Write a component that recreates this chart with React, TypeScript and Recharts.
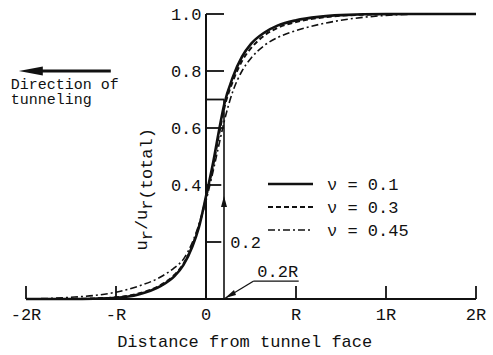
import { LineChart, Line, XAxis, YAxis, ReferenceLine, ReferenceDot } from "recharts";

// distance from tunnel face, in tunnel radii (R)
const distance = [-2, -1.75, -1.5, -1.25, -1, -0.75, -0.5, -0.35, -0.25, -0.15, -0.08, 0, 0.08, 0.15, 0.2, 0.3, 0.4, 0.5, 0.65, 0.8, 1, 1.25, 1.5, 2, 2.5, 3];
const nu01 = [0, 0, 0, 0.001, 0.004, 0.016, 0.046, 0.08, 0.12, 0.185, 0.25, 0.36, 0.48, 0.6, 0.68, 0.78, 0.85, 0.895, 0.935, 0.96, 0.978, 0.99, 0.996, 1, 1, 1];
const nu03 = [0, 0, 0, 0.002, 0.006, 0.019, 0.05, 0.085, 0.124, 0.19, 0.255, 0.355, 0.47, 0.585, 0.665, 0.765, 0.835, 0.88, 0.925, 0.952, 0.972, 0.986, 0.994, 0.999, 1, 1];
const nu045 = [0, 0.002, 0.006, 0.012, 0.024, 0.045, 0.078, 0.11, 0.14, 0.2, 0.26, 0.345, 0.45, 0.55, 0.62, 0.73, 0.8, 0.845, 0.89, 0.918, 0.942, 0.963, 0.978, 0.995, 1, 1];

const xTickValues = [-2, -1, 0, 1, 2, 3];
const xTickLabels = ["-2R", "-R", "0", "R", "1R", "2R"];
const yTickValues = [0.4, 0.6, 0.8, 1.0];
const yTickLabels = ["0.4", "0.6", "0.8", "1.0"];

const series = [
  { key: "nu01", name: "\u03bd = 0.1", dash: undefined as string | undefined, width: 2.6 },
  { key: "nu03", name: "\u03bd = 0.3", dash: "5 3", width: 2 },
  { key: "nu045", name: "\u03bd = 0.45", dash: "7 3 2 3", width: 1.6 },
];

const data = distance.map((x, i) => ({ x, nu01: nu01[i], nu03: nu03[i], nu045: nu045[i] }));

const FONT = "'Liberation Mono', 'DejaVu Sans Mono', monospace";
const INK = "#111";

// text / small glyphs anchored at a data position
function note(key: string, x: number, y: number, draw: (cx: number, cy: number) => JSX.Element) {
  return (
    <ReferenceDot
      key={key}
      x={x}
      y={y}
      r={0}
      ifOverflow="visible"
      shape={(p: any) => draw(p.cx, p.cy)}
    />
  );
}

function seg(key: string, x1: number, y1: number, x2: number, y2: number, w = 1.8) {
  return (
    <ReferenceLine
      key={key}
      segment={[{ x: x1, y: y1 }, { x: x2, y: y2 }]}
      stroke={INK}
      strokeWidth={w}
      ifOverflow="visible"
    />
  );
}

function LegendBox() {
  return (
    <svg width={160} height={72} style={{ display: "block" }}>
      {series.map((s, i) => (
        <g key={s.key}>
          <line x1={6} x2={51} y1={12 + i * 23} y2={12 + i * 23} stroke={INK} strokeWidth={s.width} strokeDasharray={s.dash} />
          <text x={65} y={18 + i * 23} fontFamily={FONT} fontSize={17} fill={INK}>{s.name}</text>
        </g>
      ))}
    </svg>
  );
}

export default function App() {
  return (
    <div style={{ position: "absolute", left: 0, top: 0, width: 493, height: 355, background: "#fff" }}>
      <LineChart width={493} height={355} data={data} margin={{ top: 14, right: 17, left: 26, bottom: 0 }}>
        <XAxis
          type="number"
          dataKey="x"
          domain={[-2, 3]}
          ticks={xTickValues}
          interval={0}
          height={56}
          axisLine={{ stroke: INK, strokeWidth: 2 }}
          tickLine={false}
          tickSize={0}
          tickMargin={0}
          tick={(p: any) => {
            const i = xTickValues.indexOf(p.payload.value);
            return (
              <g>
                <line x1={p.x} x2={p.x} y1={p.y} y2={p.y - 13} stroke={INK} strokeWidth={1.8} />
                <text x={p.x} y={p.y + 21} textAnchor="middle" fontFamily={FONT} fontSize={17} fill={INK}>
                  {xTickLabels[i]}
                </text>
              </g>
            );
          }}
        />
        <YAxis hide type="number" domain={[0, 1]} />

        {/* y axis drawn at the tunnel face */}
        {seg("yaxis", 0, 0, 0, 1, 2)}
        {yTickValues.map((v) => seg("yt" + v, 0, v, v === 0.4 ? 0.17 : 0.2, v))}
        {seg("yt02", 0, 0.2, 0.17, 0.2)}
        {seg("yt07", 0, 0.7, 0.2, 0.7)}
        {yTickValues.map((v, i) =>
          note("yl" + v, -0.05, v, (cx, cy) => (
            <text x={cx} y={cy + 6} textAnchor="end" fontFamily={FONT} fontSize={17} fill={INK}>{yTickLabels[i]}</text>
          ))
        )}

        {/* 0.2R arrow and leader */}
        {seg("arrow02", 0.2, 0, 0.2, 0.7, 1.6)}
        {note("arrowhead", 0.2, 0.33, (cx, cy) => (
          <path d={`M${cx},${cy - 9} L${cx - 3},${cy + 2} L${cx + 3},${cy + 2} Z`} fill={INK} />
        ))}
        {note("lbl02", 0.27, 0.2, (cx, cy) => (
          <text x={cx} y={cy + 6} fontFamily={FONT} fontSize={17} fill={INK}>0.2</text>
        ))}
        {seg("lead1", 0.2, 0, 0.53, 0.063, 1.3)}
        {seg("lead2", 0.53, 0.063, 1.03, 0.063, 1.3)}
        {note("leadhead", 0.2, 0, (cx, cy) => (
          <path d={`M${cx + 1},${cy - 1} L${cx + 10},${cy - 9} L${cx + 12},${cy - 4} Z`} fill={INK} />
        ))}
        {note("lbl02R", 0.57, 0.077, (cx, cy) => (
          <text x={cx} y={cy} fontFamily={FONT} fontSize={17} fill={INK}>0.2R</text>
        ))}

        {/* direction of tunneling */}
        {note("dir", -2.08, 0.8, (cx, cy) => (
          <g>
            <path d={`M${cx},${cy} L${cx + 24},${cy - 4.5} L${cx + 24},${cy + 4.5} Z`} fill={INK} />
            <line x1={cx + 20} x2={cx + 92} y1={cy} y2={cy} stroke={INK} strokeWidth={3.2} />
          </g>
        ))}
        {note("dirtxt", -2.17, 0.737, (cx, cy) => (
          <text x={cx} y={cy} fontFamily={FONT} fontSize={15} fill={INK}>
            <tspan x={cx}>Direction of</tspan>
            <tspan x={cx} dy={15.5}>tunneling</tspan>
          </text>
        ))}

        {/* axis titles */}
        {note("ytitle", -0.66, 0.385, (cx, cy) => (
          <text transform={`rotate(-90 ${cx} ${cy})`} x={cx} y={cy} textAnchor="middle" fontFamily={FONT} fontSize={17} fill={INK}>
            u<tspan dy={5}>r</tspan><tspan dy={-5}>/u</tspan><tspan dy={5}>r(total)</tspan>
          </text>
        ))}
        {note("xtitle", 0.43, -0.168, (cx, cy) => (
          <text x={cx} y={cy} textAnchor="middle" fontFamily={FONT} fontSize={17} fill={INK}>Distance from tunnel face</text>
        ))}

        {series.map((s) => (
          <Line
            key={s.key}
            type="monotone"
            dataKey={s.key}
            name={s.name}
            stroke={INK}
            strokeWidth={s.width}
            strokeDasharray={s.dash}
            dot={false}
            activeDot={false}
            isAnimationActive={false}
          />
        ))}
      </LineChart>
      <div style={{ position: "absolute", left: 262, top: 172 }}>
        <LegendBox />
      </div>
    </div>
  );
}
